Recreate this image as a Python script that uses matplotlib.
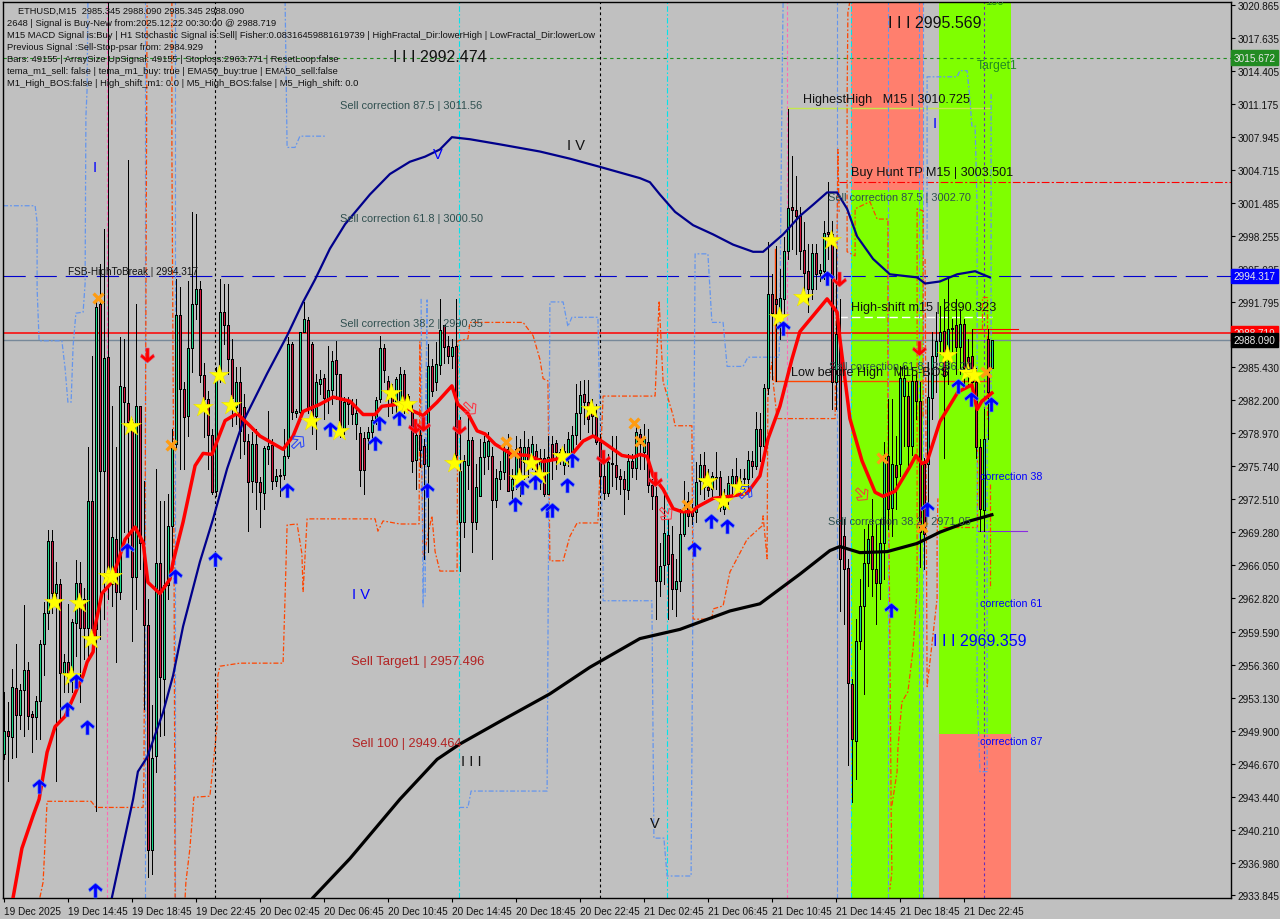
import matplotlib
matplotlib.use("Agg")
import matplotlib.pyplot as plt
from matplotlib.path import Path
from matplotlib.transforms import Affine2D

plt.rcParams['font.family'] = ['Liberation Sans', 'DejaVu Sans']

# candles, bar 0 is the left edge of the chart, G up R down
directions = ("GRGRGGRRGG" "GGRGRGRGGR" "RGRGRGRGRG" "RRRGRRRGGR" "GGGGRRGGGR"
              "RRRGGRRRGR" "RRGRRGGRGR" "GGRGGGRRGG" "RGGRRGRRGR" "RGGGGRRRGG"
              "RRRGRRGRGG" "RRGRGGGRGG" "GGRGGGRGGR" "GRGRGRGRRR" "GGGGGRRRRR"
              "RGRRRRGRGR" "GRRRGGRRGG" "GRRGGRRGRR" "GGGRRGGRGR" "GGRRGGGRRR"
              "RRGRGGRRGR" "RRRGGGGRRG" "GRGRGGRGRR" "RGGGGRGGRG" "RRRRRGRG")
highs = [2953.7, 2952.7, 2955.9, 2958.4, 2954.5, 2962.2, 2956.6, 2951.8, 2953.3, 2958.8,
         2962.5, 2969.5, 2969.5, 2966.4, 2964.7, 2957.4, 2962.3, 2960.8, 2966.6, 2966.4,
         2963.8, 2977.6, 2986.5, 2992.1, 2995.5, 2998.9, 3023.4, 2981.6, 2977.6, 2988.4,
         2988.2, 3005.7, 2980.4, 2991.6, 2981.6, 2974.3, 2962.8, 2952.4, 2975.5, 2972.3,
         2972.3, 2973.0, 2979.4, 2994.0, 2993.3, 2984.0, 2993.8, 3000.6, 3000.4, 2993.8,
         2985.8, 2983.1, 2979.4, 2985.4, 2994.0, 2993.6, 2993.6, 2988.2, 2985.4, 2985.4,
         2982.8, 2978.9, 2979.1, 2979.4, 2974.7, 2977.7, 2981.1, 2978.4, 2975.5, 2975.5,
         2979.4, 2988.4, 2987.9, 2981.3, 2988.9, 2991.8, 2990.3, 2987.9, 2984.8, 2985.1,
         2984.8, 2987.5, 2987.0, 2988.0, 2984.8, 2982.5, 2982.5, 2982.3, 2982.3, 2979.6,
         2979.1, 2979.6, 2980.9, 2982.5, 2988.5, 2987.7, 2984.6, 2983.8, 2984.5, 2985.4,
         2985.1, 2982.8, 2982.0, 2979.1, 2979.4, 2978.4, 2987.7, 2986.2, 2987.9, 2992.1,
         2989.5, 2988.5, 2988.2, 2992.1, 2980.6, 2976.8, 2980.7, 2978.6, 2976.0, 2978.4,
         2978.7, 2979.1, 2977.6, 2975.5, 2976.3, 2978.1, 2978.9, 2975.5, 2978.7, 2978.4,
         2979.2, 2978.4, 2978.7, 2977.9, 2977.4, 2977.4, 2978.7, 2978.7, 2978.3, 2977.4,
         2977.9, 2979.1, 2979.7, 2983.8, 2984.1, 2984.2, 2984.2, 2982.3, 2981.8, 2978.9,
         2976.5, 2976.9, 2978.7, 2978.7, 2975.5, 2975.3, 2976.9, 2976.9, 2979.9, 2979.4,
         2979.9, 2979.4, 2974.5, 2973.7, 2968.2, 2973.5, 2970.6, 2969.9, 2966.7, 2971.6,
         2974.3, 2973.2, 2972.1, 2976.2, 2976.9, 2977.1, 2975.5, 2975.2, 2977.1, 2975.3,
         2973.5, 2974.8, 2975.5, 2976.5, 2975.5, 2975.5, 2977.2, 2977.2, 2981.0, 2980.9,
         2983.8, 2997.7, 2994.5, 2997.3, 2995.0, 2998.1, 3010.7, 3006.1, 3004.1, 3001.1,
         2999.6, 2997.5, 2997.5, 2997.5, 2995.5, 2999.7, 3003.5, 2999.7, 2997.0, 2992.1,
         2970.6, 2966.7, 2955.0, 2960.8, 2964.7, 2969.6, 2970.1, 2972.5, 2970.1, 2970.6,
         2978.1, 2982.3, 2982.3, 2978.7, 2985.5, 2985.5, 2984.0, 2985.3, 2984.8, 2984.0,
         2976.5, 2985.9, 2988.9, 2990.8, 2991.4, 2992.1, 2994.0, 2990.1, 2992.1, 2991.1,
         2990.1, 2988.2, 2989.2, 2985.3, 2978.4, 2981.3, 2989.2, 2988.09]
body_tops = [2949.9, 2949.9, 2954.2, 2954.1, 2953.9, 2955.8, 2955.8, 2951.5, 2952.8, 2958.4,
             2961.4, 2968.4, 2968.4, 2964.2, 2964.2, 2956.6, 2956.6, 2960.5, 2964.3, 2964.3,
             2962.8, 2972.3, 2972.3, 2991.3, 2991.6, 2986.3, 2986.4, 2968.8, 2968.6, 2983.6,
             2983.5, 2981.9, 2980.1, 2981.6, 2981.6, 2967.4, 2960.2, 2947.2, 2966.3, 2966.3,
             2964.1, 2969.9, 2977.9, 2990.5, 2990.5, 2983.3, 2987.3, 2991.6, 2993.1, 2993.1,
             2984.7, 2982.3, 2978.8, 2984.3, 2990.8, 2990.8, 2989.5, 2986.2, 2984.0, 2984.0,
             2981.5, 2978.2, 2977.9, 2977.9, 2974.2, 2977.5, 2977.7, 2977.8, 2974.8, 2974.9,
             2976.7, 2987.7, 2987.7, 2981.1, 2988.9, 2990.1, 2990.0, 2987.7, 2984.0, 2984.3,
             2984.4, 2983.2, 2986.0, 2986.1, 2984.8, 2982.0, 2982.1, 2981.9, 2980.9, 2979.0,
             2978.5, 2979.1, 2980.3, 2982.2, 2987.3, 2987.3, 2984.1, 2982.8, 2984.3, 2984.8,
             2984.8, 2982.6, 2981.0, 2978.8, 2978.8, 2977.7, 2985.5, 2985.5, 2985.7, 2989.1,
             2989.5, 2987.5, 2987.4, 2987.5, 2975.3, 2976.3, 2978.3, 2978.3, 2973.7, 2976.6,
             2978.1, 2978.2, 2976.7, 2974.6, 2975.3, 2977.4, 2977.4, 2974.5, 2977.4, 2977.6,
             2977.6, 2977.6, 2977.9, 2977.2, 2976.5, 2976.5, 2976.6, 2977.9, 2978.0, 2977.1,
             2977.2, 2978.4, 2978.8, 2980.9, 2982.7, 2982.8, 2982.0, 2981.5, 2980.6, 2978.1,
             2974.8, 2976.2, 2976.1, 2975.9, 2974.8, 2974.5, 2976.3, 2976.3, 2979.1, 2978.9,
             2978.4, 2978.1, 2973.9, 2972.8, 2966.0, 2969.2, 2969.0, 2967.2, 2964.5, 2969.1,
             2971.3, 2972.3, 2971.4, 2974.2, 2975.9, 2975.9, 2973.7, 2974.8, 2974.7, 2974.7,
             2972.8, 2974.1, 2974.8, 2974.8, 2974.3, 2974.6, 2976.4, 2976.3, 2979.4, 2979.4,
             2983.4, 2992.6, 2992.6, 2992.1, 2992.2, 2996.8, 3001.0, 3001.1, 3000.8, 3000.2,
             2996.9, 2994.8, 2996.6, 2996.6, 2994.9, 2998.5, 2998.6, 2998.4, 2988.7, 2987.7,
             2968.9, 2965.8, 2954.5, 2958.7, 2962.1, 2966.3, 2968.6, 2968.9, 2965.7, 2968.2,
             2976.8, 2976.7, 2976.0, 2975.9, 2984.4, 2984.4, 2982.6, 2984.1, 2984.1, 2982.1,
             2976.0, 2982.5, 2986.5, 2988.0, 2988.9, 2989.0, 2989.2, 2989.3, 2989.5, 2989.6,
             2989.6, 2986.4, 2986.5, 2984.0, 2977.6, 2978.4, 2988.2, 2988.09]
body_bottoms = [2947.6, 2949.4, 2949.3, 2951.4, 2951.4, 2953.9, 2951.3, 2951.2, 2951.2, 2952.8,
                2958.4, 2961.4, 2963.4, 2963.4, 2955.5, 2955.5, 2954.9, 2954.9, 2960.4, 2959.9,
                2959.9, 2959.9, 2959.0, 2959.8, 2975.3, 2975.3, 2965.7, 2964.2, 2963.5, 2963.5,
                2982.0, 2980.1, 2964.9, 2964.9, 2968.2, 2960.2, 2938.2, 2938.2, 2947.4, 2955.1,
                2955.0, 2964.1, 2969.9, 2977.9, 2983.3, 2980.6, 2980.7, 2987.3, 2991.6, 2984.7,
                2982.3, 2978.8, 2973.2, 2973.3, 2984.5, 2989.5, 2986.2, 2982.4, 2981.5, 2979.2,
                2978.2, 2974.2, 2974.3, 2974.2, 2973.2, 2973.1, 2977.4, 2974.3, 2974.3, 2974.8,
                2974.9, 2976.7, 2981.0, 2980.9, 2981.0, 2988.9, 2981.3, 2980.7, 2980.7, 2983.8,
                2982.4, 2982.4, 2983.2, 2984.8, 2979.1, 2979.4, 2981.8, 2980.8, 2979.9, 2975.4,
                2975.4, 2978.5, 2979.1, 2980.4, 2982.3, 2985.1, 2982.4, 2981.8, 2982.0, 2981.8,
                2982.0, 2982.2, 2976.3, 2976.4, 2977.3, 2976.0, 2975.8, 2983.1, 2984.0, 2985.6,
                2987.4, 2986.5, 2986.5, 2976.8, 2970.3, 2970.3, 2975.9, 2970.3, 2970.3, 2972.8,
                2976.6, 2976.7, 2972.4, 2972.4, 2974.5, 2975.2, 2973.3, 2973.4, 2974.5, 2975.0,
                2976.2, 2976.2, 2976.5, 2975.0, 2974.8, 2973.0, 2973.0, 2976.5, 2977.1, 2977.0,
                2975.9, 2976.9, 2977.1, 2978.8, 2980.9, 2982.0, 2980.4, 2980.7, 2978.1, 2974.8,
                2973.1, 2973.1, 2976.0, 2974.7, 2974.5, 2973.5, 2973.4, 2975.6, 2975.6, 2977.9,
                2977.1, 2973.9, 2972.8, 2964.5, 2964.5, 2966.1, 2966.2, 2963.7, 2963.7, 2964.5,
                2969.1, 2970.9, 2970.9, 2971.3, 2974.3, 2973.7, 2973.4, 2973.5, 2974.6, 2971.8,
                2971.6, 2972.8, 2974.0, 2973.8, 2973.7, 2974.5, 2974.5, 2975.8, 2975.8, 2977.7,
                2977.7, 2983.4, 2990.7, 2991.6, 2990.1, 2992.1, 2996.8, 3000.8, 3000.2, 2996.8,
                2994.6, 2993.1, 2993.1, 2994.5, 2994.6, 2994.8, 2998.4, 2984.0, 2984.0, 2966.7,
                2965.7, 2954.6, 2949.1, 2948.9, 2958.7, 2962.1, 2966.3, 2965.7, 2964.3, 2964.3,
                2968.2, 2971.6, 2971.7, 2974.7, 2976.0, 2982.6, 2977.7, 2977.7, 2982.1, 2969.3,
                2969.1, 2976.0, 2982.4, 2986.5, 2988.0, 2984.6, 2987.0, 2989.2, 2987.4, 2987.4,
                2985.3, 2985.3, 2984.0, 2977.6, 2971.6, 2971.5, 2983.0, 2985.345]
lows = [2947.1, 2945.0, 2947.2, 2947.3, 2950.1, 2949.4, 2950.1, 2947.8, 2949.1, 2949.1,
        2955.3, 2959.8, 2961.4, 2945.0, 2951.1, 2953.7, 2953.7, 2953.7, 2957.2, 2952.7,
        2956.9, 2957.2, 2958.7, 2942.1, 2958.9, 2960.8, 2962.8, 2962.1, 2956.6, 2962.8,
        2969.3, 2967.9, 2958.7, 2961.8, 2965.7, 2952.0, 2935.6, 2935.9, 2945.9, 2949.4,
        2949.5, 2962.8, 2965.4, 2977.4, 2975.5, 2975.5, 2978.7, 2985.0, 2990.1, 2984.0,
        2978.6, 2975.5, 2973.0, 2972.8, 2984.0, 2987.7, 2984.8, 2979.7, 2979.9, 2976.5,
        2976.9, 2969.4, 2973.2, 2971.6, 2969.8, 2971.6, 2976.0, 2973.5, 2973.8, 2972.8,
        2974.5, 2976.5, 2980.4, 2980.6, 2980.9, 2988.9, 2980.9, 2978.9, 2977.4, 2982.8,
        2980.4, 2980.9, 2981.8, 2982.3, 2978.6, 2978.9, 2979.9, 2979.9, 2978.4, 2973.8,
        2973.0, 2977.4, 2978.4, 2979.9, 2982.0, 2984.0, 2980.7, 2980.9, 2980.7, 2981.3,
        2980.9, 2981.5, 2975.2, 2973.5, 2975.7, 2966.7, 2967.4, 2982.6, 2983.2, 2984.8,
        2985.8, 2985.8, 2985.3, 2975.8, 2965.5, 2968.8, 2973.5, 2967.4, 2969.6, 2972.8,
        2975.0, 2975.5, 2966.7, 2971.8, 2973.5, 2974.5, 2973.3, 2972.3, 2973.5, 2972.8,
        2974.5, 2974.7, 2975.5, 2974.0, 2973.5, 2972.8, 2973.0, 2974.5, 2975.5, 2976.0,
        2975.0, 2975.8, 2976.0, 2977.9, 2978.4, 2979.9, 2979.1, 2978.9, 2977.9, 2973.3,
        2972.5, 2972.8, 2973.8, 2973.5, 2973.0, 2971.1, 2972.5, 2974.7, 2974.5, 2975.5,
        2975.5, 2973.2, 2971.6, 2960.8, 2963.1, 2964.2, 2960.8, 2961.8, 2961.1, 2963.6,
        2968.9, 2969.9, 2970.1, 2970.3, 2973.0, 2972.5, 2972.8, 2972.5, 2973.5, 2971.4,
        2971.1, 2972.1, 2973.0, 2972.8, 2973.0, 2973.5, 2973.5, 2974.7, 2975.5, 2976.3,
        2977.4, 2982.8, 2984.3, 2984.1, 2988.2, 2990.6, 2996.0, 2997.0, 2996.5, 2995.0,
        2992.4, 2990.8, 2992.1, 2993.1, 2993.8, 2994.0, 2996.0, 2981.3, 2981.3, 2961.6,
        2960.3, 2946.5, 2942.9, 2945.2, 2957.9, 2953.5, 2964.0, 2963.1, 2960.3, 2962.8,
        2964.7, 2969.6, 2968.9, 2971.6, 2974.8, 2977.7, 2975.5, 2976.8, 2980.4, 2965.9,
        2965.7, 2970.9, 2980.4, 2983.0, 2986.7, 2976.5, 2983.8, 2987.0, 2984.8, 2984.8,
        2983.8, 2983.8, 2982.3, 2976.5, 2969.4, 2969.4, 2978.4, 2985.345]

# red moving average
red_bars = [2.4, 4.6, 7.4, 8.9, 10.9, 12.9, 15.4, 18.4, 19.9, 20.9, 22.4, 22.9, 24.6, 26.6, 28.6,
            30.4, 32.9, 34.9, 36.1, 39.1, 41.6, 42.4, 44.9, 47.9, 49.9, 52.1, 55.4, 58.4, 61.6,
            64.1, 69.9, 72.4, 74.9, 79.1, 82.4, 86.6, 89.9, 92.9, 94.6, 98.6, 104.9, 108.4, 112.1,
            113.6, 116.1, 118.4, 120.4, 122.9, 127.1, 131.1, 134.9, 139.1, 142.1, 144.9, 147.4,
            149.9, 154.6, 157.4, 159.1, 160.9, 162.4, 164.9, 167.4, 169.6, 172.1, 173.6, 177.4,
            181.6, 185.9, 189.1, 191.1, 194.1, 197.1, 199.1, 205.9, 208.4, 209.1, 211.6, 214.6,
            217.9, 219.9, 222.9, 226.6, 228.1, 229.6, 230.9, 234.1, 238.6, 242.1, 243.4, 244.6, 247.1]
red_values = [2933.6, 2938.4, 2941.6, 2943.2, 2947.8, 2950.3, 2951.3, 2954.0, 2955.3, 2956.6, 2957.6,
              2960.1, 2963.3, 2964.2, 2966.4, 2968.6, 2969.8, 2968.3, 2964.4, 2963.3, 2964.7, 2966.4,
              2970.3, 2975.8, 2977.0, 2976.9, 2980.2, 2980.9, 2979.7, 2978.7, 2977.4, 2978.7, 2981.1,
              2981.8, 2982.5, 2982.1, 2980.8, 2980.8, 2981.6, 2981.8, 2980.7, 2982.0, 2983.6, 2981.8,
              2980.9, 2979.2, 2978.9, 2977.9, 2976.9, 2976.8, 2976.2, 2976.5, 2976.9, 2978.2, 2978.7,
              2978.1, 2976.8, 2976.6, 2976.9, 2976.7, 2974.8, 2973.5, 2971.6, 2971.3, 2971.3, 2971.8,
              2972.6, 2972.8, 2973.1, 2974.8, 2978.4, 2981.6, 2986.2, 2988.9, 2992.1, 2990.8, 2988.2,
              2980.4, 2976.3, 2973.2, 2972.8, 2973.3, 2975.7, 2976.8, 2976.0, 2976.2, 2980.1, 2983.0,
              2983.7, 2981.3, 2982.1, 2982.9]

# navy moving average
navy_bars = [27.1, 32.4, 33.6, 35.9, 39.9, 42.4, 44.9, 49.1, 52.4, 55.9, 59.9, 65.9, 70.9, 74.9, 77.9,
             81.6, 85.4, 91.6, 96.6, 101.6, 105.4, 109.1, 112.1, 116.6, 124.1, 134.1, 141.6, 149.1,
             159.1, 161.6, 164.1, 167.9, 172.4, 177.4, 182.4, 187.4, 189.9, 194.9, 199.1, 202.4,
             205.9, 208.4, 210.9, 213.4, 217.4, 221.6, 228.4, 230.4, 234.1, 238.4, 242.9, 246.6]
navy_values = [2933.6, 2943.2, 2945.9, 2947.3, 2951.7, 2955.3, 2960.1, 2966.4, 2970.6, 2975.5, 2980.1,
               2984.8, 2988.5, 2991.8, 2994.0, 2997.0, 2999.4, 3002.3, 3004.3, 3005.5, 3006.0, 3006.7,
               3007.9, 3007.7, 3007.2, 3006.5, 3005.8, 3005.0, 3003.9, 3003.5, 3002.3, 3000.6, 2999.3,
               2998.4, 2997.4, 2996.7, 2996.7, 2998.4, 3000.2, 3001.3, 3002.5, 3002.5, 3000.9, 2998.2,
               2996.0, 2994.5, 2994.2, 2993.6, 2993.8, 2994.5, 2994.8, 2994.2]

# black moving average
black_bars = [77.4, 86.6, 99.1, 108.4, 114.1, 124.1, 136.6, 146.6, 159.1, 169.1, 181.6, 189.1, 199.1,
              206.6, 209.1, 214.1, 220.9, 228.4, 234.1, 241.6, 247.1]
black_values = [2933.6, 2937.4, 2943.2, 2947.1, 2948.6, 2950.8, 2953.5, 2956.1, 2958.9, 2959.8, 2961.6,
                2962.3, 2965.2, 2967.5, 2967.9, 2967.3, 2967.4, 2968.2, 2969.3, 2970.4, 2971.0]

# dashed step lines, orange
orange_a_bars = [9.1, 9.9, 10.9, 21.9, 23.1, 34.9, 35.1, 35.4, 35.9]
orange_a_values = [2933.6, 2935.1, 2943.0, 2943.0, 2942.4, 2942.4, 2945.2, 2970.6, 3021.2]
orange_b_bars = [42.1, 42.1, 42.6, 42.9]
orange_b_values = [3021.2, 3006.7, 2970.6, 2933.6]
orange_c_bars = [45.4, 45.6, 46.6, 47.6, 51.6, 53.4, 53.6, 54.1, 59.1, 69.9, 70.4, 70.9, 73.4, 74.6, 74.9,
                 75.9, 92.9, 93.6, 94.9, 99.1, 103.9, 104.1, 104.9, 107.1, 107.9, 109.1, 113.4, 113.6,
                 116.1, 116.6, 129.9, 132.4, 134.1, 134.9, 136.1, 136.6, 139.9, 141.6, 143.4, 148.6,
                 149.9, 162.9, 163.9, 164.9, 167.4, 167.9, 172.1, 172.4, 177.1, 177.4, 179.9, 181.6,
                 185.9, 189.6, 189.9, 190.9, 191.1, 192.1, 192.4, 193.4, 207.9, 208.6, 208.9]
orange_c_values = [2933.6, 2935.1, 2938.4, 2943.4, 2943.5, 2950.4, 2955.3, 2956.2, 2956.5, 2956.5, 2963.1,
                   2970.0, 2970.1, 2967.2, 2963.5, 2970.6, 2970.6, 2969.4, 2970.4, 2970.1, 2970.1, 2987.9,
                   2966.7, 2970.9, 2967.4, 2965.5, 2965.5, 2988.0, 2988.2, 2989.8, 2989.8, 2988.5, 2986.2,
                   2984.3, 2984.1, 2966.5, 2966.5, 2968.9, 2970.2, 2970.2, 2982.6, 2982.6, 2991.9, 2984.0,
                   2980.7, 2979.7, 2979.7, 2960.8, 2960.8, 2961.8, 2962.1, 2965.4, 2968.6, 2969.9, 2970.9,
                   2966.7, 2983.3, 2985.9, 2984.0, 2980.4, 2980.4, 3006.7, 3000.6]
orange_d_bars = [211.6, 211.1, 210.9, 210.9, 212.9, 212.9, 216.6, 218.4, 221.1, 221.1, 221.6, 221.9, 222.1, 221.6]
orange_d_values = [3021.2, 3020.1, 3011.6, 2996.7, 2996.3, 3000.9, 3001.6, 2999.9, 2999.9, 2980.4, 2958.9,
                   2942.6, 2936.1, 2934.4]
orange_e_bars = [222.1, 223.4, 223.6, 224.6, 226.1, 227.4, 228.4, 228.4, 229.9, 229.9]
orange_e_values = [2942.6, 2945.9, 2948.1, 2952.7, 2953.7, 2957.9, 2963.8, 3000.9, 3000.7, 2980.4]
orange_f_bars = [230.4, 230.9, 233.4, 233.4, 233.6]
orange_f_values = [2996.0, 2954.2, 2962.8, 2968.6, 2972.6]
orange_g_bars = [234.9, 243.4, 243.4]
orange_g_values = [2969.8, 2969.8, 2982.3]
orange_h_bars = [244.6, 244.6, 245.9, 245.9]
orange_h_values = [2989.2, 2992.3, 2992.3, 2980.4]
orange_i_bars = [246.6, 246.6]
orange_i_values = [2974.0, 2963.8]

# dashed step lines, cornflower blue
blue_a_bars = [-0.1, 7.9, 8.4, 8.4, 8.9, 14.6, 15.4, 16.1, 16.9, 17.4, 18.1, 19.9, 20.4, 20.6, 20.9, 21.1]
blue_a_values = [3001.2, 3001.2, 2999.6, 2993.1, 2988.0, 2988.0, 2985.3, 2982.0, 2982.0, 2987.5, 2990.7,
                 2990.8, 2993.6, 3009.9, 3012.6, 3021.2]
blue_b_bars = [70.4, 70.9, 72.9, 74.1, 78.4, 80.4]
blue_b_values = [3021.2, 3006.9, 3006.9, 3008.0, 3008.0, 3008.0]
blue_c_bars = [104.4, 104.9, 105.9, 105.4]
blue_c_values = [2992.1, 2962.0, 2992.0, 2962.8]
blue_d_bars = [113.9, 116.1, 116.9, 135.9, 136.6, 139.9, 141.1, 142.1, 148.6, 149.9, 149.9, 162.1, 162.6,
               165.1, 165.9, 171.9, 172.9, 176.1, 177.1, 179.9, 180.9, 184.9, 186.1, 193.9, 194.1, 194.6, 194.9]
blue_d_values = [2942.4, 2942.4, 2944.0, 2944.0, 2991.8, 2991.8, 2989.4, 2990.3, 2990.3, 2966.0, 2962.6,
                 2962.6, 2939.4, 2939.4, 2935.7, 2935.7, 2996.5, 2996.5, 2989.8, 2989.8, 2985.5, 2985.5,
                 2986.4, 2986.4, 2990.8, 3011.6, 3021.2]
blue_e_bars = [230.9, 230.9, 238.4, 239.1, 240.9, 241.6, 242.1, 242.9, 243.4, 243.4, 244.1, 245.9, 245.9, 246.9, 246.9]
blue_e_values = [2997.9, 3013.8, 3013.8, 3014.4, 3014.4, 3011.6, 3009.0, 3009.0, 3001.2, 2953.7, 2945.9,
                 2945.9, 2978.4, 2982.3, 3012.3]
blue_full_bars = [35.4, 42.9, 208.4, 221.1, 228.9, 229.9]

# full height verticals
cyan_bars = [113.9, 165.9, 211.9]
pink_bars = [25.9, 195.9]
day_bars = [52.9, 149.1]
last_day_bar = 245.1

# coloured zones
zone_bars = [(211.9, 229.9), (233.9, 251.9)]
zone_split = [3002.7, 2949.6]

# price levels
target_level = 3015.672
break_level = 2994.317
signal_level = 2988.719
close_level = 2988.090
tp_level = 3003.501
highest_level = 3010.725
high_shift_level = 2990.323
low_before_level = 2984.1
top_stub_level = 2989.2
low_stub_level = 2969.4

# markers
star_bars = [12.6, 18.9, 16.9, 21.9, 26.1, 27.1, 31.9, 49.9, 53.9, 56.9, 76.9, 83.9, 96.9, 99.6, 100.9,
             112.6, 128.9, 131.9, 133.9, 139.6, 146.9, 175.9, 179.9, 183.9, 193.9, 199.9, 206.9, 235.9,
             240.9, 242.6]
star_values = [2962.5, 2962.4, 2955.2, 2958.9, 2965.0, 2965.0, 2979.7, 2981.5, 2984.7, 2981.7, 2980.2,
               2979.2, 2982.9, 2981.7, 2981.8, 2976.1, 2974.6, 2976.1, 2974.9, 2976.7, 2981.3, 2974.3,
               2972.3, 2973.7, 2990.3, 2992.3, 2997.9, 2986.6, 2985.0, 2984.7]
cross_bars = [23.6, 41.9, 125.6, 127.6, 157.6, 159.1, 170.9, 219.6, 229.6, 245.6]
cross_values = [2992.2, 2977.8, 2978.1, 2977.0, 2980.0, 2978.2, 2972.0, 2976.5, 2969.8, 2985.0]
up_bars = [8.9, 15.9, 20.9, 18.1, 22.9, 30.9, 42.9, 52.9, 70.9, 81.6, 92.9, 93.9, 98.9, 105.9, 127.9, 129.6,
           132.9, 135.9, 137.1, 140.9, 142.1, 172.6, 176.9, 180.9, 194.9, 205.9, 221.9, 230.9, 238.6, 241.9, 246.9]
up_values = [2944.5, 2952.0, 2950.3, 2954.8, 2934.3, 2967.6, 2965.0, 2966.7, 2973.4, 2979.4, 2978.0, 2980.0,
             2980.5, 2973.4, 2972.1, 2973.7, 2974.2, 2971.5, 2971.5, 2973.9, 2976.4, 2967.7, 2970.4, 2969.9,
             2989.3, 2994.1, 2961.7, 2971.6, 2983.6, 2982.3, 2981.8]
down_bars = [35.9, 102.9, 104.9, 113.9, 149.9, 162.9, 208.9, 228.9]
down_values = [2986.6, 2979.7, 2979.9, 2979.6, 2976.6, 2974.5, 2994.0, 2987.3]
hollow_red_bars = [116.6, 165.6, 214.6]
hollow_red_values = [2981.4, 2971.1, 2973.0]
hollow_blue_bars = [73.6, 185.6]
hollow_blue_values = [2978.1, 2973.2]

# axis labels
y_ticks = [3020.865, 3017.635, 3014.405, 3011.175, 3007.945, 3004.715, 3001.485, 2998.255, 2995.025, 2991.795,
           2988.565, 2985.430, 2982.200, 2978.970, 2975.740, 2972.510, 2969.280, 2966.050, 2962.820, 2959.590,
           2956.360, 2953.130, 2949.900, 2946.670, 2943.440, 2940.210, 2936.980, 2933.845]
time_labels = ["19 Dec 2025", "19 Dec 14:45", "19 Dec 18:45", "19 Dec 22:45", "20 Dec 02:45", "20 Dec 06:45",
               "20 Dec 10:45", "20 Dec 14:45", "20 Dec 18:45", "20 Dec 22:45", "21 Dec 02:45", "21 Dec 06:45",
               "21 Dec 10:45", "21 Dec 14:45", "21 Dec 18:45", "21 Dec 22:45"]
header_lines = ["2648 | Signal is Buy-New from:2025.12.22 00:30:00 @ 2988.719",
                "M15 MACD Signal is:Buy | H1 Stochastic Signal is:Sell| Fisher:0.08316459881619739 | HighFractal_Dir:lowerHigh | LowFractal_Dir:lowerLow",
                "Previous Signal :Sell-Stop-psar from: 2984.929",
                "Bars: 49155 | ArraySize UpSignal: 49155 | Stoploss:2963.771 | ResetLoop:false",
                "tema_m1_sell: false | tema_m1_buy: true | EMA50_buy:true | EMA50_sell:false",
                "M1_High_BOS:false | High_shift_m1: 0.0 | M5_High_BOS:false | M5_High_shift: 0.0"]

BG = "#C0C0C0"
ORANGE = "#FF4500"
CORN = "#6495ED"

fig = plt.figure(figsize=(12.8, 9.2), dpi=100, facecolor=BG)
ax = fig.add_axes([2.5 / 1280, 1 - 899 / 920, 1228 / 1280, 896.5 / 920], facecolor=BG)
ax.set_xlim(-0.25, 306.75)
ax.set_ylim(2933.55, 3021.16)

# zones first, everything sits on them
ax.fill_between(zone_bars[0], zone_split[0], 3021.16, color="#FF7F6E", lw=0, zorder=0)
ax.fill_between(zone_bars[0], 2933.55, zone_split[0], color="#7FFF00", lw=0, zorder=0)
ax.fill_between(zone_bars[1], zone_split[1], 3021.16, color="#7FFF00", lw=0, zorder=0)
ax.fill_between(zone_bars[1], 2933.55, zone_split[1], color="#FF7F6E", lw=0, zorder=0)

ax.axhline(signal_level, color="#FF0000", lw=1.1, zorder=1)
ax.axhline(close_level, color="#778899", lw=1.0, zorder=1)
ax.axhline(break_level, color="#0000CD", lw=0.8, dashes=(20, 8), zorder=1)
ax.axhline(target_level, color="#228B22", lw=0.8, dashes=(3, 3), zorder=1)
ax.plot([208.9, 306.75], [tp_level, tp_level], color="#FF0000", lw=0.8, dashes=(7, 2, 2, 2), zorder=1)
ax.plot([195.9, 246.6], [highest_level, highest_level], color="#C4E84C", lw=1.0, zorder=1)
ax.plot([208.9, 247.1], [high_shift_level, high_shift_level], color="white", lw=1.0, dashes=(6, 3), zorder=1)
ax.plot([192.9, 192.9, 246.6], [2997.0, low_before_level, low_before_level], color="#FF4500", lw=1.0, zorder=1)
ax.plot([242.0, 242.0, 253.6], [2987.4, top_stub_level, top_stub_level], color="#FF0000", lw=0.8, zorder=1)
ax.plot([243.6, 255.9], [low_stub_level, low_stub_level], color="#8A2BE2", lw=0.8, zorder=1)

for b in cyan_bars:
    ax.axvline(b, color="#00E5EE", lw=0.8, dashes=(5, 2, 1.5, 2), zorder=1)
for b in pink_bars:
    ax.axvline(b, color="#FF69B4", lw=0.8, dashes=(3, 2), zorder=1)
for b in day_bars:
    ax.axvline(b, color="black", lw=0.8, dashes=(2.5, 2.5), zorder=1)
ax.axvline(last_day_bar, color="#6A2CB8", lw=0.8, dashes=(2.5, 2.5), zorder=1)
for b in blue_full_bars:
    ax.axvline(b, color=CORN, lw=0.8, dashes=(4, 2), zorder=1.5)

orange_lines = [(orange_a_bars, orange_a_values), (orange_b_bars, orange_b_values), (orange_c_bars, orange_c_values),
                (orange_d_bars, orange_d_values), (orange_e_bars, orange_e_values), (orange_f_bars, orange_f_values),
                (orange_g_bars, orange_g_values), (orange_h_bars, orange_h_values), (orange_i_bars, orange_i_values)]
for bx, vals in orange_lines:
    ax.plot(bx, vals, color=ORANGE, lw=0.9, dashes=(4, 1.6, 1.4, 1.6), zorder=2)
blue_lines = [(blue_a_bars, blue_a_values), (blue_b_bars, blue_b_values), (blue_c_bars, blue_c_values),
              (blue_d_bars, blue_d_values), (blue_e_bars, blue_e_values)]
for bx, vals in blue_lines:
    ax.plot(bx, vals, color=CORN, lw=0.9, dashes=(4, 1.6, 1.4, 1.6), zorder=2)

# candles, no antialiasing so they stay crisp like the terminal draws them
xs = list(range(len(highs)))
ax.vlines(xs, lows, highs, color="black", lw=0.72, antialiased=False, zorder=3)
up_x = [i for i in xs if directions[i] == "G"]
dn_x = [i for i in xs if directions[i] == "R"]
ax.bar(up_x, [body_tops[i] - body_bottoms[i] for i in up_x], bottom=[body_bottoms[i] for i in up_x], width=0.5,
       color="#18D888", edgecolor="black", lw=0.72, antialiased=False, zorder=3.1)
ax.bar(dn_x, [body_tops[i] - body_bottoms[i] for i in dn_x], bottom=[body_bottoms[i] for i in dn_x], width=0.5,
       color="#D0143C", edgecolor="black", lw=0.72, antialiased=False, zorder=3.1)

ax.plot(black_bars, black_values, color="black", lw=2.3, zorder=4)
ax.plot(navy_bars, navy_values, color="#00008B", lw=1.6, zorder=4)
ax.plot(red_bars, red_values, color="#FF0000", lw=2.5, zorder=4.1, solid_joinstyle="round")

# arrow shape used by all the arrow markers
arrow = Path([(-0.22, -1), (0.22, -1), (0.22, 0.25), (0.8, -0.2), (0.95, 0.2), (0, 1), (-0.95, 0.2), (-0.8, -0.2),
              (-0.22, 0.25), (-0.22, -1)], closed=True)
arrow_down = arrow.transformed(Affine2D().rotate_deg(180))
hollow_ne = arrow.transformed(Affine2D().rotate_deg(-45))
hollow_se = arrow.transformed(Affine2D().rotate_deg(-135))

ax.scatter(star_bars, star_values, marker="*", s=230, color="#FFFF00", edgecolor="#E6D800", lw=0.3, zorder=5)
ax.scatter(cross_bars, cross_values, marker="x", s=50, color="#FF9C12", lw=2.4, zorder=5)
ax.scatter(up_bars, up_values, marker=arrow, s=115, color="#0000FF", edgecolor=CORN, lw=0.4, zorder=5)
ax.scatter(down_bars, down_values, marker=arrow_down, s=115, color="#FF0000", edgecolor="#E0506E", lw=0.4, zorder=5)
ax.scatter(hollow_red_bars, hollow_red_values, marker=hollow_se, s=85, facecolor="none", edgecolor="#FF3040", lw=0.7, zorder=5)
ax.scatter(hollow_blue_bars, hollow_blue_values, marker=hollow_ne, s=85, facecolor="none", edgecolor="#2040FF", lw=0.7, zorder=5)

# object labels
SLATE = "#2F4F4F"
for b, v, s in [(84.1, 3011.0, "Sell correction 87.5 | 3011.56"), (84.1, 3000.0, "Sell correction 61.8 | 3000.50"),
                (84.1, 2989.7, "Sell correction 38.2 | 2990.35"), (206.1, 3002.1, "Sell correction 87.5 | 3002.70"),
                (206.4, 2985.5, "Sell correction 61.8 | 2986.20"), (206.1, 2970.4, "Sell correction 38.2 | 2971.05")]:
    ax.text(b, v, s, color=SLATE, fontsize=7.9, va="center", zorder=6)
ax.text(16.1, 2994.8, "FSB-HighToBreak | 2994.317", color="#111111", fontsize=7.2, va="center", zorder=6)
ax.text(86.9, 2956.7, "Sell Target1 | 2957.496", color="#B22222", fontsize=9.4, va="center", zorder=6)
ax.text(87.1, 2948.7, "Sell 100 | 2949.464", color="#B22222", fontsize=9.2, va="center", zorder=6)
for b, v, s in [(199.9, 3011.6, "HighestHigh   M15 | 3010.725"), (211.9, 3004.5, "Buy Hunt TP M15 | 3003.501"),
                (211.9, 2991.3, "High-shift m15 | 2990.323"), (196.9, 2985.0, "Low before High   M15-BOS")]:
    ax.text(b, v, s, color="#111111", fontsize=9.1, va="center", zorder=6)
ax.text(221.1, 3019.1, "I I I 2995.569", color="#111111", fontsize=11.5, va="center", zorder=6)
ax.text(97.4, 3015.8, "I I I 2992.474", color="#111111", fontsize=11.5, va="center", zorder=6)
ax.text(232.4, 2958.7, "I I I 2969.359", color="#0000FF", fontsize=11.5, va="center", zorder=6)
for v, s in [(2974.8, "correction 38"), (2962.4, "correction 61"), (2948.9, "correction 87")]:
    ax.text(244.1, v, s, color="#0000FF", fontsize=7.7, va="center", zorder=6)
ax.text(243.4, 3015.0, "Target1", color="#228B22", fontsize=8.8, va="center", zorder=6)
ax.text(245.5, 3021.2, "100", color="#228B22", fontsize=8, va="center", zorder=6, clip_on=True)
for b, v, s, c in [(89.4, 2963.3, "I V", "#0000FF"), (143.2, 3007.1, "I V", "#111111"), (108.6, 3006.3, "V", "#0000FF"),
                   (116.9, 2946.9, "I I I", "#111111"), (162.9, 2940.9, "V", "#111111"), (22.9, 3005.0, "I", "#0000FF"),
                   (232.9, 3009.3, "I", "#0000FF")]:
    ax.text(b, v, s, color=c, fontsize=10.5, ha="center", va="center", zorder=6)

# header in the corner
fig.text(18 / 1280, 1 - 11 / 920, "ETHUSD,M15  2985.345 2988.090 2985.345 2988.090", fontsize=6.7, color="#111111", va="center")
for row, line in enumerate(header_lines):
    fig.text(7 / 1280, 1 - (24 + row * 11.9) / 920, line, fontsize=6.75, color="#111111", va="center", zorder=7)

# axes
for side in ax.spines:
    ax.spines[side].set_color("black")
    ax.spines[side].set_linewidth(1.0)
ax.yaxis.tick_right()
ax.set_yticks(y_ticks)
ax.set_yticklabels([f"{v:.3f}" for v in y_ticks])
ax.tick_params(axis="y", length=3, width=0.8, pad=2, labelsize=7.2, labelcolor="#111111")
ax.set_xticks([i * 16 for i in range(len(time_labels))])
ax.set_xticklabels(time_labels, ha="left")
ax.tick_params(axis="x", length=3, width=0.8, pad=3, labelsize=7.2, labelcolor="#111111")

# price tags on the right edge
ytrans = ax.get_yaxis_transform()
for level, bg, fg in [(target_level, "#228B22", "#E8E8E8"), (break_level, "#0000FF", "#E8E8E8"),
                      (signal_level, "#FF0000", "#E8E8E8"), (close_level, "black", "#E8E8E8")]:
    ax.text(1.0025, level, f"{level:.3f}", transform=ytrans, color=fg, fontsize=7.2, va="center", ha="left",
            bbox=dict(facecolor=bg, edgecolor=bg, pad=1.6), zorder=8, clip_on=False)

fig.savefig("out.png", dpi=100, facecolor=BG)
